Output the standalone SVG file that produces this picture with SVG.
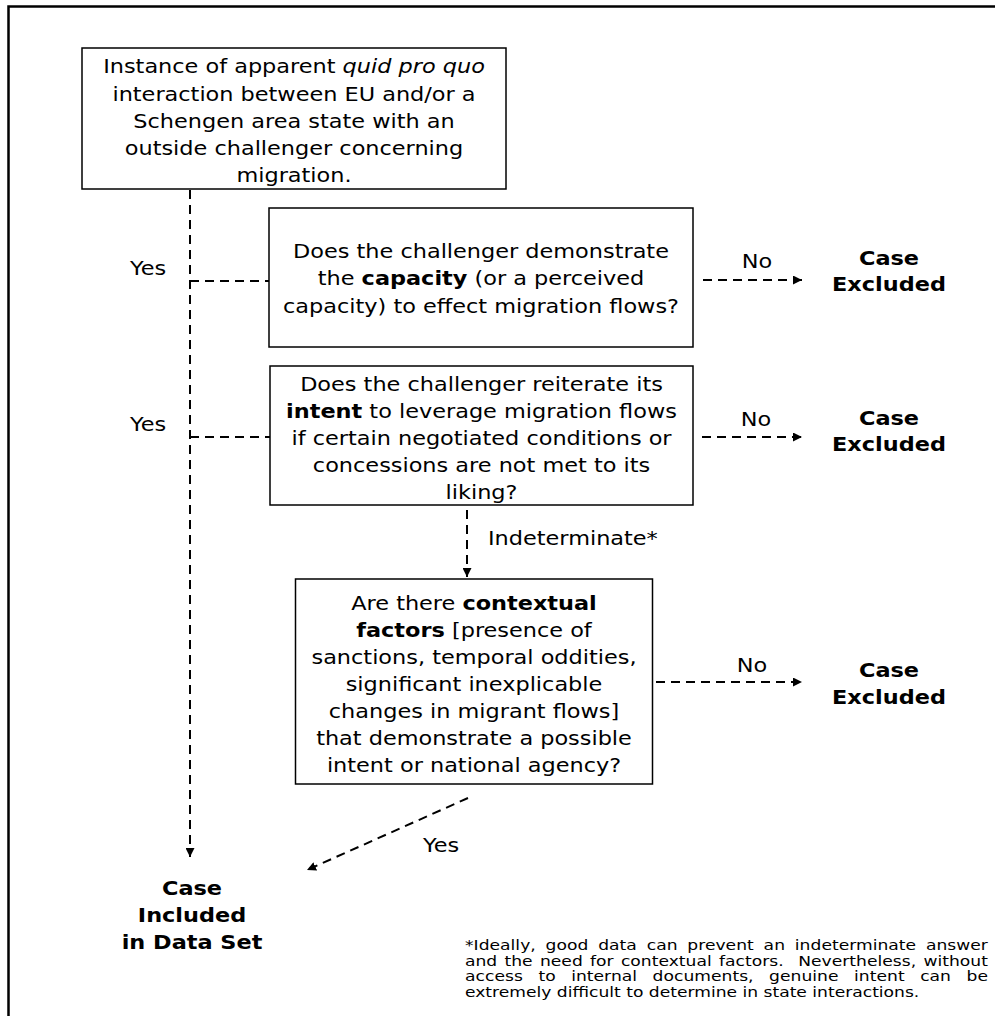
<svg xmlns="http://www.w3.org/2000/svg" width="995" height="1016" viewBox="0 0 995 1016">
<style>
.t{font-family:"DejaVu Sans","Liberation Sans",sans-serif;font-size:20px;fill:#000;text-anchor:middle}
.s{text-anchor:start}
.b{font-weight:bold}
.box{fill:#fff;stroke:#000;stroke-width:1.5}
.c{fill:none;stroke:#000;stroke-width:2;stroke-dasharray:9 6}
.fn{font-family:"DejaVu Sans","Liberation Sans",sans-serif;font-size:13.3px;fill:#000;white-space:pre}
</style>
<defs>
<marker id="ah" markerUnits="userSpaceOnUse" markerWidth="10" markerHeight="9" refX="9" refY="4.5" orient="auto">
<path d="M0,0 L9,4.5 L0,9 z" fill="#000"/>
</marker>
</defs>
<rect x="8.5" y="6.5" width="1000" height="1020" fill="#fff" stroke="#000" stroke-width="2.5"/>
<g id="connectors">
<path class="c" d="M190,190 V857" marker-end="url(#ah)"/>
<path class="c" d="M190,281 H269"/>
<path class="c" d="M190,437 H270"/>
<path class="c" d="M703,280 H802" marker-end="url(#ah)"/>
<path class="c" d="M702,437 H802" marker-end="url(#ah)"/>
<path class="c" d="M656,682 H802" marker-end="url(#ah)"/>
<path class="c" d="M467,510 V577" marker-end="url(#ah)"/>
<path class="c" d="M468,798 L307,870" marker-end="url(#ah)"/>
<text class="t" transform="matrix(1.12 0 0 1 148 0)" y="275">Yes</text>
<text class="t" transform="matrix(1.12 0 0 1 148 0)" y="431">Yes</text>
<text class="t" transform="matrix(1.12 0 0 1 757 0)" y="268">No</text>
<text class="t" transform="matrix(1.12 0 0 1 756 0)" y="426">No</text>
<text class="t" transform="matrix(1.12 0 0 1 752 0)" y="672">No</text>
<text class="t s" transform="matrix(1.12 0 0 1 488 0)" y="545">Indeterminate*</text>
<text class="t s" transform="matrix(1.12 0 0 1 423 0)" y="852">Yes</text>
</g>
<g id="start">
<rect class="box" x="82" y="48" width="424" height="141"/>
<g transform="matrix(1.12 0 0 1 294 0)">
<text class="t" y="73.5">Instance of apparent <tspan font-style="italic">quid pro quo</tspan></text>
<text class="t" y="100.7">interaction between EU and/or a</text>
<text class="t" y="127.9">Schengen area state with an</text>
<text class="t" y="155.1">outside challenger concerning</text>
<text class="t" y="182.3">migration.</text>
</g>
</g>
<g id="q-capacity">
<rect class="box" x="269" y="208" width="424" height="139"/>
<g transform="matrix(1.12 0 0 1 481 0)">
<text class="t" y="258">Does the challenger demonstrate</text>
<text class="t" y="285.5">the <tspan class="b">capacity</tspan> (or a perceived</text>
<text class="t" y="313">capacity) to effect migration flows?</text>
</g>
</g>
<g id="q-intent">
<rect class="box" x="270" y="366" width="423" height="139"/>
<g transform="matrix(1.12 0 0 1 481.5 0)">
<text class="t" y="391">Does the challenger reiterate its</text>
<text class="t" y="418"><tspan class="b">intent</tspan> to leverage migration flows</text>
<text class="t" y="445">if certain negotiated conditions or</text>
<text class="t" y="472">concessions are not met to its</text>
<text class="t" y="499">liking?</text>
</g>
</g>
<g id="q-context">
<rect class="box" x="295.5" y="579" width="357" height="205"/>
<g transform="matrix(1.12 0 0 1 474 0)">
<text class="t" y="610">Are there <tspan class="b">contextual</tspan></text>
<text class="t" y="637"><tspan class="b">factors</tspan> [presence of</text>
<text class="t" y="664">sanctions, temporal oddities,</text>
<text class="t" y="691">significant inexplicable</text>
<text class="t" y="718">changes in migrant flows]</text>
<text class="t" y="745">that demonstrate a possible</text>
<text class="t" y="772">intent or national agency?</text>
</g>
</g>
<g id="excluded-1" transform="matrix(1.12 0 0 1 889 0)">
<text class="t b" y="265">Case</text>
<text class="t b" y="291">Excluded</text>
</g>
<g id="excluded-2" transform="matrix(1.12 0 0 1 889 0)">
<text class="t b" y="425">Case</text>
<text class="t b" y="451">Excluded</text>
</g>
<g id="excluded-3" transform="matrix(1.12 0 0 1 889 0)">
<text class="t b" y="677">Case</text>
<text class="t b" y="704">Excluded</text>
</g>
<g id="included" transform="matrix(1.12 0 0 1 192 0)">
<text class="t b" y="895">Case</text>
<text class="t b" y="922">Included</text>
<text class="t b" y="949">in Data Set</text>
</g>
<g id="footnote" transform="matrix(1.288 0 0 1 465 0)">
<text class="fn" x="0" y="950.5" word-spacing="3.4" textLength="406" lengthAdjust="spacing">*Ideally, good data can prevent an indeterminate answer</text>
<text class="fn" x="0" y="966" word-spacing="1.4" textLength="406" lengthAdjust="spacing" xml:space="preserve">and the need for contextual factors.  Nevertheless, without</text>
<text class="fn" x="0" y="981.5" word-spacing="7.8" textLength="406" lengthAdjust="spacing">access to internal documents, genuine intent can be</text>
<text class="fn" x="0" y="997">extremely difficult to determine in state interactions.</text>
</g>
</svg>
